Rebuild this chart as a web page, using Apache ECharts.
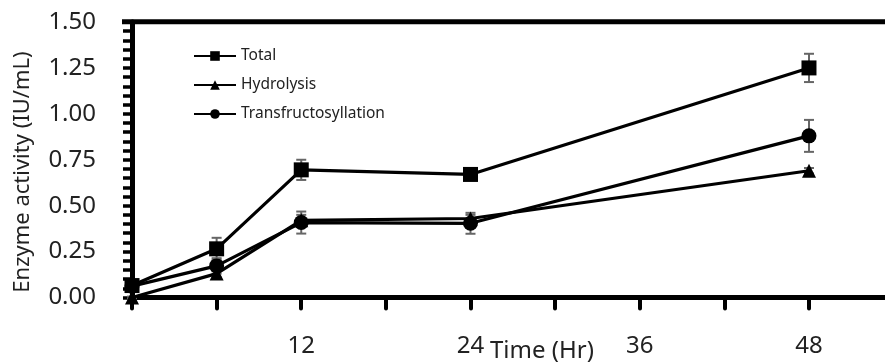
<!DOCTYPE html>
<html>
<head>
<meta charset="utf-8">
<script src="https://cdn.jsdelivr.net/npm/echarts@6/dist/echarts.min.js"></script>
<style>
html,body{margin:0;padding:0;background:#fff;}
#chart{width:885px;height:363px;}
</style>
</head>
<body>
<div id="chart"></div>
<script>
var hours = [0, 6, 12, 24, 48];
var xTickValues = [0, 6, 12, 18, 24, 30, 36, 42, 48];
var xTickLabels = [12, 24, 36, 48];
var seriesNames = ['Total', 'Hydrolysis', 'Transfructosyllation'];
var total = [0.065, 0.265, 0.695, 0.67, 1.25];
var totalErr = [0.01, 0.06, 0.055, 0.015, 0.077];
var hydrolysis = [0.0, 0.13, 0.42, 0.43, 0.69];
var hydrolysisErr = [0.005, 0.02, 0.03, 0.02, 0.015];
var transfructosyllation = [0.062, 0.172, 0.408, 0.404, 0.88];
var transfructosyllationErr = [0.02, 0.042, 0.06, 0.057, 0.087];

var FONT = '"Noto Sans", "Open Sans", sans-serif';

function pairs(vals) {
  return hours.map(function (h, i) { return [h, vals[i]]; });
}
function errData(vals, errs) {
  return hours.map(function (h, i) { return [h, vals[i] - errs[i], vals[i] + errs[i]]; });
}
function errSeries(vals, errs) {
  return {
    type: 'custom',
    silent: true,
    z: 1,
    clip: false,
    data: errData(vals, errs),
    renderItem: function (params, api) {
      var x = api.value(0);
      var lo = api.coord([x, api.value(1)]);
      var hi = api.coord([x, api.value(2)]);
      var w = 5;
      var st = { stroke: '#666', lineWidth: 2 };
      return {
        type: 'group',
        children: [
          { type: 'line', shape: { x1: lo[0], y1: lo[1], x2: hi[0], y2: hi[1] }, style: st },
          { type: 'line', shape: { x1: lo[0] - w, y1: lo[1], x2: lo[0] + w, y2: lo[1] }, style: st },
          { type: 'line', shape: { x1: hi[0] - w, y1: hi[1], x2: hi[0] + w, y2: hi[1] }, style: st }
        ]
      };
    }
  };
}
function lineSeries(name, vals, symbol, size) {
  return {
    name: name,
    type: 'line',
    z: 3,
    clip: false,
    data: pairs(vals),
    symbol: symbol,
    symbolSize: size,
    showAllSymbol: true,
    lineStyle: { color: '#000', width: 3.2 },
    itemStyle: { color: '#000', borderWidth: 0 },
    emphasis: { disabled: true }
  };
}

var chart = echarts.init(document.getElementById('chart'), null, { renderer: 'canvas' });
chart.setOption({
  animation: false,
  backgroundColor: '#fff',
  textStyle: { fontFamily: FONT },
  grid: { left: 132, right: 0, top: 22, bottom: 65.5, containLabel: false },
  legend: {
    orient: 'vertical',
    left: 188,
    top: 43,
    itemWidth: 42,
    itemHeight: 12,
    itemGap: 13,
    data: seriesNames,
    textStyle: { fontFamily: FONT, fontSize: 15.5, color: '#222' }
  },
  xAxis: {
    type: 'value',
    min: 0,
    max: 53.39,
    splitLine: { show: false },
    axisLine: { onZero: false, lineStyle: { color: '#000', width: 5 } },
    axisTick: { show: true, customValues: xTickValues, length: 11, lineStyle: { color: '#000', width: 4, cap: 'round' } },
    axisLabel: {
      customValues: xTickLabels,
      margin: 37,
      fontSize: 24,
      fontFamily: FONT,
      color: '#222',
      formatter: function (v) { return String(v); }
    }
  },
  yAxis: {
    type: 'value',
    min: 0,
    max: 1.5,
    interval: 0.25,
    splitLine: { show: false },
    axisLine: { onZero: false, lineStyle: { color: '#000', width: 5 } },
    axisTick: { show: true, length: 9, lineStyle: { color: '#000', width: 3.5 } },
    minorTick: { show: true, splitNumber: 5, length: 9, lineStyle: { color: '#000', width: 3.5 } },
    axisLabel: {
      margin: 36,
      fontSize: 24,
      fontFamily: FONT,
      color: '#222',
      padding: [8, 0, 0, 0],
      formatter: function (v) { return v.toFixed(2); }
    }
  },
  graphic: [
    {
      type: 'line',
      shape: { x1: 122, y1: 21.7, x2: 885, y2: 21.7 },
      style: { stroke: '#000', lineWidth: 5 },
      z: 10
    },
    {
      type: 'text',
      left: 490,
      top: 339,
      style: { text: 'Time (Hr)', font: '24px ' + FONT, fill: '#222' }
    },
    {
      type: 'text',
      rotation: Math.PI / 2,
      x: 23,
      y: 172,
      style: {
        text: 'Enzyme activity (IU/mL)',
        font: '22px ' + FONT,
        fill: '#222',
        align: 'center',
        verticalAlign: 'middle'
      }
    }
  ],
  series: [
    errSeries(total, totalErr),
    errSeries(hydrolysis, hydrolysisErr),
    errSeries(transfructosyllation, transfructosyllationErr),
    lineSeries('Total', total, 'rect', 15),
    lineSeries('Hydrolysis', hydrolysis, 'triangle', 14),
    lineSeries('Transfructosyllation', transfructosyllation, 'circle', 15)
  ]
});
</script>
</body>
</html>
